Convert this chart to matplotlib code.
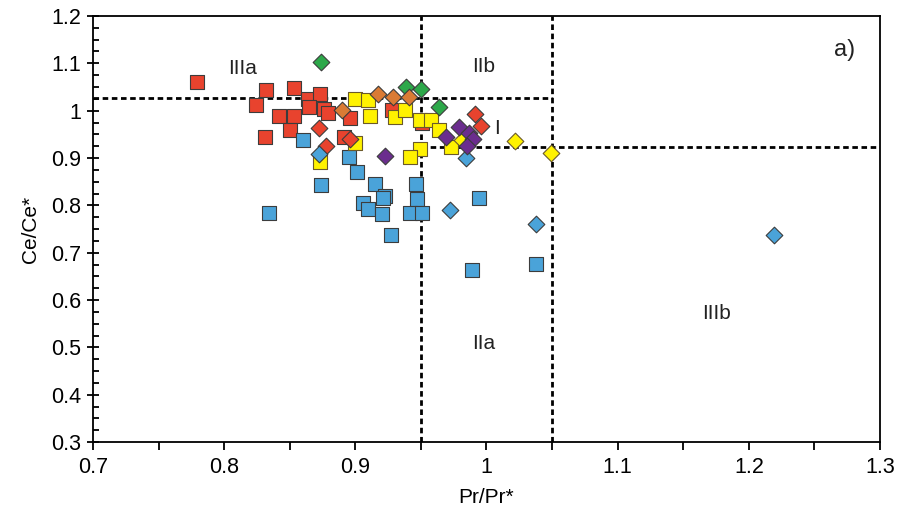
import matplotlib
matplotlib.use("Agg")
import matplotlib.pyplot as plt
from matplotlib.ticker import MultipleLocator, FormatStrFormatter

plt.rcParams['font.family'] = ['Liberation Sans', 'DejaVu Sans']

# Pr/Pr* (x) and Ce/Ce* (y) per group
red_sq_x = [0.779, 0.832, 0.853, 0.824, 0.864, 0.873, 0.865, 0.876, 0.879, 0.842,
            0.853, 0.850, 0.831, 0.896, 0.891, 0.928, 0.951]
red_sq_y = [1.060, 1.044, 1.048, 1.012, 1.024, 1.035, 1.008, 1.003, 0.996, 0.989,
            0.989, 0.959, 0.944, 0.984, 0.944, 1.001, 0.974]

blue_sq_x = [0.860, 0.874, 0.834, 0.895, 0.901, 0.915, 0.923, 0.921, 0.906, 0.910,
             0.920, 0.927, 0.946, 0.947, 0.942, 0.951, 0.994, 0.989, 1.038]
blue_sq_y = [0.938, 0.843, 0.784, 0.903, 0.871, 0.846, 0.820, 0.815, 0.804, 0.792,
             0.781, 0.738, 0.846, 0.813, 0.783, 0.783, 0.816, 0.663, 0.677]

yellow_sq_x = [0.873, 0.900, 0.910, 0.911, 0.930, 0.938, 0.949, 0.958, 0.964, 0.973,
               0.949, 0.942, 0.900]
yellow_sq_y = [0.892, 1.024, 1.022, 0.989, 0.987, 1.001, 0.980, 0.980, 0.960, 0.924,
               0.920, 0.903, 0.931]

red_d_x = [0.872, 0.878, 0.896, 0.991, 0.996]
red_d_y = [0.963, 0.925, 0.940, 0.993, 0.967]

blue_d_x = [0.872, 0.972, 0.984, 1.038, 1.219]
blue_d_y = [0.908, 0.790, 0.901, 0.760, 0.738]

yellow_d_x = [0.981, 1.022, 1.049]
yellow_d_y = [0.938, 0.936, 0.911]

green_d_x = [0.874, 0.939, 0.950, 0.964]
green_d_y = [1.103, 1.051, 1.045, 1.008]

orange_d_x = [0.890, 0.917, 0.929, 0.941]
orange_d_y = [1.001, 1.035, 1.029, 1.028]

purple_d_x = [0.923, 0.969, 0.979, 0.987, 0.990, 0.985]
purple_d_y = [0.904, 0.945, 0.965, 0.952, 0.941, 0.925]

# field boundaries
pr_lo, pr_hi = 0.95, 1.05
ce_hi, ce_lo = 1.027, 0.923


def main():
    fig = plt.figure(figsize=(9, 5.21), dpi=100)
    ax = fig.add_axes([0.1033, 0.1516, 0.8745, 0.8177])

    ec = '#3c3c3c'
    sq = dict(marker='s', s=105, edgecolors=ec, linewidths=0.8, zorder=3)
    dm = dict(marker='D', s=72, edgecolors=ec, linewidths=0.8, zorder=4)

    ax.scatter(red_sq_x, red_sq_y, c='#E8432E', **sq)
    ax.scatter(blue_sq_x, blue_sq_y, c='#4AA3D9', **sq)
    ax.scatter(yellow_sq_x, yellow_sq_y, c='#FFF200', **dict(sq, edgecolors='#6b5a2a'))
    ax.scatter(red_d_x, red_d_y, c='#E8432E', **dm)
    ax.scatter(blue_d_x, blue_d_y, c='#4AA3D9', **dm)
    ax.scatter(yellow_d_x, yellow_d_y, c='#FFF200', **dict(dm, edgecolors='#6b5a2a'))
    ax.scatter(green_d_x, green_d_y, c='#2DA84A', **dm)
    ax.scatter(orange_d_x, orange_d_y, c='#DA7B35', **dm)
    ax.scatter(purple_d_x, purple_d_y, c='#6B2D8E', **dm)

    # dashed field lines
    ls = (0, (2.0, 1.3))
    ax.plot([0.7, pr_hi], [ce_hi, ce_hi], color='k', lw=2, ls=ls, zorder=2)
    ax.plot([pr_lo, 1.3], [ce_lo, ce_lo], color='k', lw=2, ls=ls, zorder=2)
    ax.plot([pr_lo, pr_lo], [0.3, 1.2], color='k', lw=2, ls=ls, zorder=2)
    ax.plot([pr_hi, pr_hi], [0.3, 1.2], color='k', lw=2, ls=ls, zorder=2)

    tkw = dict(fontsize=15, color='#222222', ha='center', va='center')
    ax.text(0.814, 1.09, 'IIIa', **tkw)
    ax.text(0.998, 1.094, 'IIb', **tkw)
    ax.text(1.008, 0.963, 'I', **tkw)
    ax.text(0.998, 0.509, 'IIa', **tkw)
    ax.text(1.175, 0.572, 'IIIb', **tkw)
    ax.text(1.273, 1.128, 'a)', fontsize=17, color='#222222', ha='center', va='center')

    ax.set_xlim(0.7, 1.3)
    ax.set_ylim(0.3, 1.2)
    ax.xaxis.set_major_locator(MultipleLocator(0.1))
    ax.xaxis.set_minor_locator(MultipleLocator(0.05))
    ax.yaxis.set_major_locator(MultipleLocator(0.1))
    ax.yaxis.set_minor_locator(MultipleLocator(0.025))
    ax.xaxis.set_major_formatter(FormatStrFormatter('%g'))
    ax.yaxis.set_major_formatter(FormatStrFormatter('%g'))

    ax.tick_params(axis='x', which='both', direction='out', length=6, width=1.3,
                   labelsize=15.5, pad=5)
    ax.tick_params(axis='y', which='major', direction='inout', length=9, width=1.3,
                   labelsize=15.5, pad=4)
    ax.tick_params(axis='y', which='minor', direction='in', length=4, width=1.3)
    for sp in ax.spines.values():
        sp.set_linewidth(1.3)

    ax.set_xlabel('Pr/Pr*', fontsize=15, labelpad=7)
    ax.set_ylabel('Ce/Ce*', fontsize=15, labelpad=8)

    fig.savefig('out.png', dpi=100)


if __name__ == "__main__":
    main()
